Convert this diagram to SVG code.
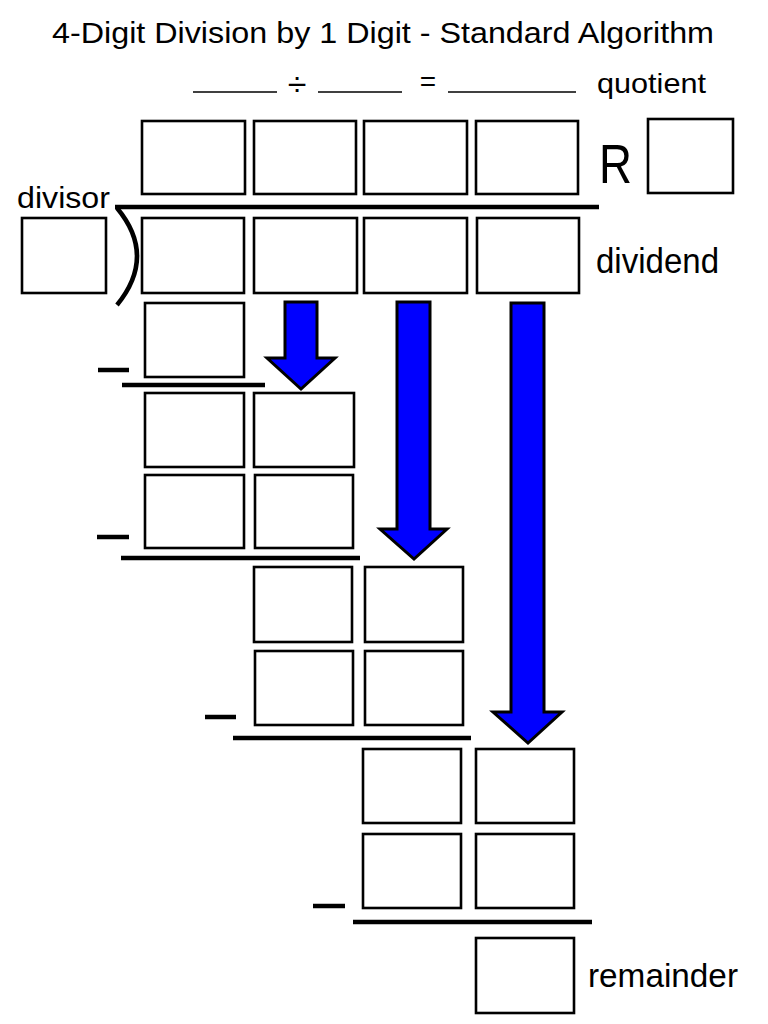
<svg xmlns="http://www.w3.org/2000/svg" width="768" height="1024" viewBox="0 0 768 1024">
<style>
.box{fill:#fff;stroke:#000;stroke-width:2.6}
.bar{stroke:#000;stroke-width:4.5;fill:none}
.ul{stroke:#000;stroke-width:1.6}
.t{font-family:"Liberation Sans","DejaVu Sans",sans-serif;fill:#000}
.arrow{fill:#0000ff;stroke:#000;stroke-width:3;stroke-linejoin:miter}
</style>
<rect width="768" height="1024" fill="#fff"/>
<g id="title">
<text class="t" x="52" y="43" font-size="30" textLength="662" lengthAdjust="spacingAndGlyphs">4-Digit Division by 1 Digit - Standard Algorithm</text>
</g>
<g id="equation">
<line class="ul" x1="193" y1="92" x2="277" y2="92"/>
<text class="t" x="297" y="96" font-size="34" text-anchor="middle">÷</text>
<line class="ul" x1="318" y1="92" x2="402" y2="92"/>
<text class="t" x="428" y="91" font-size="28" text-anchor="middle">=</text>
<line class="ul" x1="448" y1="92" x2="576" y2="92"/>
<text class="t" x="597" y="93" font-size="28" textLength="109" lengthAdjust="spacingAndGlyphs">quotient</text>
</g>
<g id="quotient-row">
<rect class="box" x="142" y="121" width="103" height="73"/>
<rect class="box" x="254" y="121" width="102" height="73"/>
<rect class="box" x="364" y="121" width="103" height="73"/>
<rect class="box" x="476" y="121" width="102" height="73"/>
<text class="t" x="599" y="183" font-size="55" textLength="33" lengthAdjust="spacingAndGlyphs">R</text>
<rect class="box" x="648" y="119" width="85" height="74"/>
</g>
<g id="division-bracket">
<line class="bar" x1="115" y1="207" x2="599" y2="207"/>
<path class="bar" d="M117,208 Q157,256 117,305"/>
</g>
<g id="divisor">
<text class="t" x="17" y="208" font-size="29" textLength="93" lengthAdjust="spacingAndGlyphs">divisor</text>
<rect class="box" x="22" y="218" width="84" height="75"/>
</g>
<g id="dividend-row">
<rect class="box" x="142" y="218" width="102" height="75"/>
<rect class="box" x="254" y="218" width="103" height="75"/>
<rect class="box" x="364" y="218" width="103" height="75"/>
<rect class="box" x="477" y="218" width="102" height="75"/>
<text class="t" x="596" y="273" font-size="35" textLength="123" lengthAdjust="spacingAndGlyphs">dividend</text>
</g>
<g id="step1">
<rect class="box" x="145" y="303" width="99" height="74"/>
<line class="bar" x1="98" y1="370" x2="129" y2="370"/>
<line class="bar" x1="122" y1="385" x2="265" y2="385"/>
</g>
<g id="step2">
<rect class="box" x="145" y="393" width="99" height="74"/>
<rect class="box" x="254" y="393" width="100" height="74"/>
<rect class="box" x="145" y="475" width="99" height="73"/>
<rect class="box" x="255" y="475" width="98" height="73"/>
<line class="bar" x1="97" y1="537" x2="129" y2="537"/>
<line class="bar" x1="121" y1="558" x2="360" y2="558"/>
</g>
<g id="step3">
<rect class="box" x="254" y="567" width="98" height="75"/>
<rect class="box" x="365" y="567" width="98" height="75"/>
<rect class="box" x="255" y="651" width="98" height="74"/>
<rect class="box" x="365" y="651" width="98" height="74"/>
<line class="bar" x1="205" y1="717" x2="236" y2="717"/>
<line class="bar" x1="233" y1="738" x2="471" y2="738"/>
</g>
<g id="step4">
<rect class="box" x="363" y="749" width="98" height="74"/>
<rect class="box" x="476" y="749" width="98" height="74"/>
<rect class="box" x="363" y="834" width="98" height="74"/>
<rect class="box" x="476" y="834" width="98" height="74"/>
<line class="bar" x1="313" y1="906" x2="345" y2="906"/>
<line class="bar" x1="353" y1="922" x2="592" y2="922"/>
</g>
<g id="remainder">
<rect class="box" x="476" y="938" width="98" height="75"/>
<text class="t" x="588" y="987" font-size="33" textLength="150" lengthAdjust="spacingAndGlyphs">remainder</text>
</g>
<g id="connectors">
<polygon class="arrow" points="285,302 317,302 317,358 335,358 301,389 267,358 285,358"/>
<polygon class="arrow" points="397,302 430,302 430,529 447,529 414,559 380,529 397,529"/>
<polygon class="arrow" points="511,303 544,303 544,712 562,712 528,743 493,712 511,712"/>
</g>
</svg>
